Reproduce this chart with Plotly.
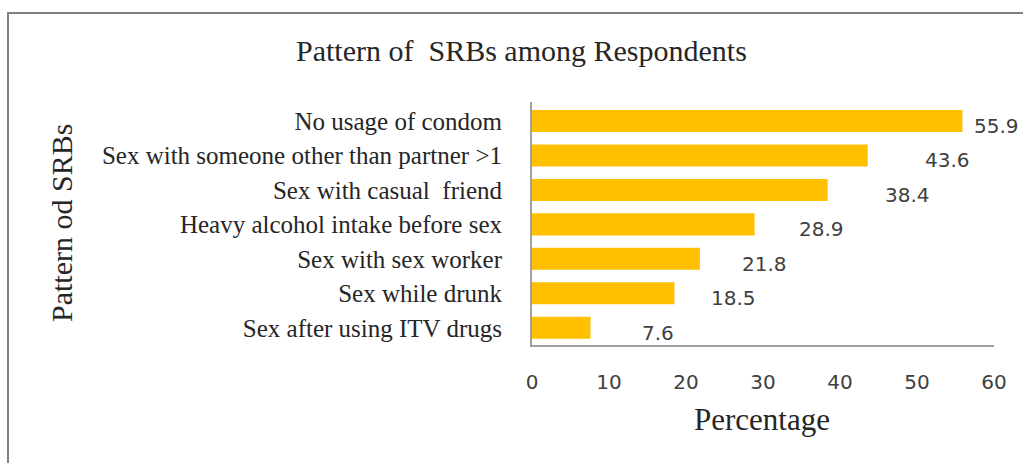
import plotly.graph_objects as go

categories = [
    "No usage of condom",
    "Sex with someone other than partner >1",
    "Sex with casual  friend",
    "Heavy alcohol intake before sex",
    "Sex with sex worker",
    "Sex while drunk",
    "Sex after using ITV drugs",
]
values = [55.9, 43.6, 38.4, 28.9, 21.8, 18.5, 7.6]
value_labels = ["55.9", "43.6", "38.4", "28.9", "21.8", "18.5", "7.6"]
x_ticks = [0, 10, 20, 30, 40, 50, 60]

# per-label horizontal offsets (px) as placed in the original
label_xshift = [10, 55, 55, 42, 40, 35, 49]

W, H = 1023, 463
ML, MR, MT, MB = 532, 29, 102, 118
SERIF = "Liberation Serif, Times New Roman, serif"
SANS = "DejaVu Sans, Verdana, sans-serif"

fig = go.Figure()
fig.add_trace(go.Bar(
    x=values, y=categories, orientation="h",
    marker=dict(color="#FFC000", line=dict(width=0)),
    hoverinfo="skip",
))

annotations = []
for v, c, t, dx in zip(values, categories, value_labels, label_xshift):
    annotations.append(dict(
        x=v, y=c, xref="x", yref="y", text=t, showarrow=False,
        xanchor="left", yanchor="middle", xshift=dx, yshift=-5,
        font=dict(family=SANS, size=20, color="#404040"),
    ))

pw = W - ML - MR
ph = H - MT - MB
def px_x(p):
    return (p - ML) / pw
def px_y(p):
    return (H - MB - p) / ph

annotations.append(dict(
    x=px_x(521), y=px_y(50), xref="paper", yref="paper", text="Pattern of  SRBs among Respondents",
    showarrow=False, xanchor="center", yanchor="middle",
    font=dict(family=SERIF, size=30, color="#262626"),
))
annotations.append(dict(
    x=px_x(762), y=px_y(419), xref="paper", yref="paper", text="Percentage",
    showarrow=False, xanchor="center", yanchor="middle",
    font=dict(family=SERIF, size=31, color="#262626"),
))
annotations.append(dict(
    x=px_x(61), y=px_y(223), xref="paper", yref="paper", text="Pattern od SRBs",
    showarrow=False, xanchor="center", yanchor="middle", textangle=-90,
    font=dict(family=SERIF, size=30, color="#262626"),
))

fig.update_layout(
    width=W, height=H,
    margin=dict(l=ML, r=MR, t=MT, b=MB, pad=0),
    paper_bgcolor="white", plot_bgcolor="white",
    showlegend=False, bargap=0.36,
    annotations=annotations,
    shapes=[dict(
        type="rect", xref="paper", yref="paper",
        x0=px_x(8), x1=px_x(1040), y0=px_y(480), y1=px_y(13),
        line=dict(color="#808080", width=2), fillcolor="rgba(0,0,0,0)",
        layer="below",
    )],
    xaxis=dict(
        range=[0, 60], tickvals=x_ticks, ticktext=[str(t) for t in x_ticks],
        showgrid=False, zeroline=False, showline=True,
        linecolor="#a0a0a0", linewidth=2, ticks="",
        ticklabelstandoff=18,
        tickfont=dict(family=SANS, size=20, color="#404040"),
        fixedrange=True,
    ),
    yaxis=dict(
        autorange="reversed", showgrid=False, zeroline=False, showline=True,
        linecolor="#a0a0a0", linewidth=2, ticks="",
        ticklabelstandoff=23,
        tickfont=dict(family=SERIF, size=25, color="#262626"),
        fixedrange=True,
    ),
)

fig.write_html("out.html")
